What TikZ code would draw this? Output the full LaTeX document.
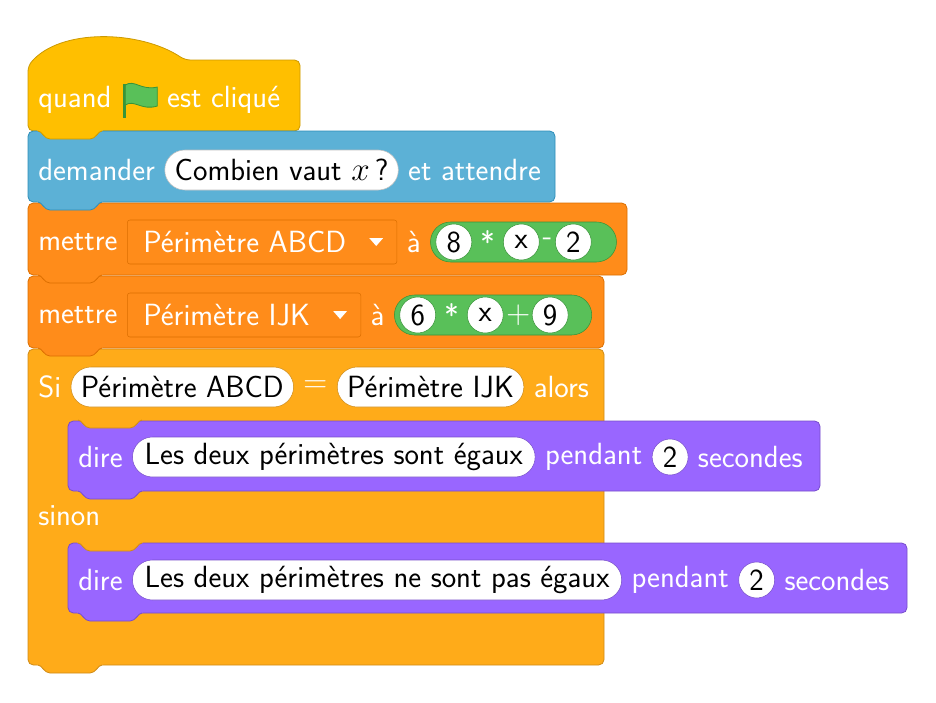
\documentclass[tikz,border=0pt]{standalone}
\usepackage{tikz}
\usetikzlibrary{positioning,calc,shapes.misc}
\definecolor{evyel}{HTML}{FFBF00}\definecolor{evyelB}{HTML}{CC9900}
\definecolor{snblue}{HTML}{5CB1D6}\definecolor{snblueB}{HTML}{2E8EB8}
\definecolor{varor}{HTML}{FF8C1A}\definecolor{varorB}{HTML}{DB6E00}
\definecolor{ctlor}{HTML}{FFAB19}\definecolor{ctlorB}{HTML}{CF8B17}
\definecolor{lookpu}{HTML}{9966FF}\definecolor{lookpuB}{HTML}{774DCB}
\definecolor{opgr}{HTML}{59C059}\definecolor{opgrB}{HTML}{389438}
\newcommand\scrfont{\sffamily\fontsize{23}{27}\selectfont}
% tab under a block: x, y, fill, border
\newcommand\scrtab[4]{
  \fill[#3] (#1+9,#2-1) -- (#1+10,#2) .. controls (#1+14,#2) and (#1+16,#2+8) .. (#1+22,#2+8) -- (#1+62,#2+8) .. controls (#1+68,#2+8) and (#1+70,#2) .. (#1+74,#2) -- (#1+75,#2-1) -- cycle;
  \draw[#4, line width=0.6pt] (#1+10,#2) .. controls (#1+14,#2) and (#1+16,#2+8) .. (#1+22,#2+8) -- (#1+62,#2+8) .. controls (#1+68,#2+8) and (#1+70,#2) .. (#1+74,#2);
}
\begin{document}
\begin{tikzpicture}[x=0.75pt, y=-0.75pt, node distance=7pt,
  blk/.style={rounded corners=4pt, line width=0.6pt},
  lbl/.style={text=white, inner sep=0pt, font=\scrfont},
  pill/.style={rounded rectangle, fill=white, draw=black!25, inner xsep=5pt, inner ysep=0pt, minimum height=30pt, font=\scrfont},
  drop/.style={rounded corners=2pt, draw=varorB, fill=varor, text=white, inner xsep=12pt, minimum height=33pt, font=\scrfont},
  num/.style={circle, fill=white, draw=opgrB, inner sep=0pt, minimum size=27pt, font=\scrfont},
  expr/.style={rounded rectangle, fill=opgr, draw=opgrB, minimum height=30pt, inner sep=0pt}]
\useasboundingbox (0,0) rectangle (936,703);

% blocks
\filldraw[blk, fill=evyel, draw=evyelB] (28,131) -- (28,66) .. controls (60,28) and (140,30) .. (185,60) -- (300,60) -- (300,131) -- cycle;
\filldraw[blk, fill=snblue, draw=snblueB] (28,131) rectangle (555,202);
\filldraw[blk, fill=varor, draw=varorB] (28,203) rectangle (627,275);
\filldraw[blk, fill=varor, draw=varorB] (28,276) rectangle (604,348);
\filldraw[blk, fill=ctlor, draw=ctlorB] (28,349) rectangle (604,665);
\filldraw[blk, fill=lookpu, draw=lookpuB] (68,421) rectangle (820,491);
\filldraw[blk, fill=lookpu, draw=lookpuB] (68,543) rectangle (907,613);
\scrtab{28}{131}{evyel}{evyelB}
\scrtab{28}{202}{snblue}{snblueB}
\scrtab{28}{275}{varor}{varorB}
\scrtab{28}{348}{varor}{varorB}
\scrtab{68}{420}{ctlor}{ctlorB}
\scrtab{68}{491}{lookpu}{lookpuB}
\scrtab{68}{543}{ctlor}{ctlorB}
\scrtab{68}{613}{lookpu}{lookpuB}
\scrtab{28}{665}{ctlor}{ctlorB}

% quand ... est clique
\node[lbl, anchor=west] (quand) at (38,100) {quand};
\node[minimum width=27pt, minimum height=26pt, inner sep=0pt] (flag) [right=of quand] {};
\node[lbl] (clic) [right=of flag] {est cliqué};
\begin{scope}[shift={(flag.center)}]
  \draw[opgrB, line width=2.4pt] (-15,-16) -- (-15,18);
  \filldraw[fill=opgr, draw=opgrB, line width=0.6pt] (-14,-15) .. controls (-5,-21) and (2,-9) .. (18,-13) -- (18,6) .. controls (2,11) and (-5,-1) .. (-14,5) -- cycle;
\end{scope}

% demander
\node[lbl, anchor=west] (dem) at (38,170) {demander};
\node[pill] (ques) [right=of dem] {Combien vaut $x$\,?};
\node[lbl] (att) [right=of ques] {et attendre};

% mettre ABCD
\node[lbl, anchor=west] (met1) at (38,242) {mettre};
\node[drop] (var1) [right=of met1] {Périmètre ABCD\hspace*{26pt}};
\node[lbl] (a1) [right=of var1] {à};
\node[expr, minimum width=139.5pt] (exp1) [right=of a1] {};
\node[num, anchor=west] (e1a) at ([xshift=4pt]exp1.west) {8};
\node[lbl, node distance=6pt] (e1b) [right=of e1a] {*};
\node[num, node distance=6pt] (e1c) [right=of e1b] {x};
\node[lbl, node distance=2pt] (e1d) [right=of e1c] {-};
\node[num, node distance=2pt] (e1e) [right=of e1d] {2};

% mettre IJK
\node[lbl, anchor=west] (met2) at (38,315) {mettre};
\node[drop] (var2) [right=of met2] {Périmètre IJK\hspace*{26pt}};
\node[lbl] (a2) [right=of var2] {à};
\node[expr, minimum width=148pt] (exp2) [right=of a2] {};
\node[num, anchor=west] (e2a) at ([xshift=4pt]exp2.west) {6};
\node[lbl, node distance=6pt] (e2b) [right=of e2a] {*};
\node[num, node distance=6pt] (e2c) [right=of e2b] {x};
\node[lbl, node distance=2pt] (e2d) [right=of e2c] {$+$};
\node[num, node distance=1pt] (e2e) [right=of e2d] {9};
\foreach \v in {var1,var2}
  \fill[white] ($(\v.east)+(-28,-4)$) -- ($(\v.east)+(-14,-4)$) -- ($(\v.east)+(-21,4)$) -- cycle;

% si ... alors
\node[lbl, anchor=west] (si) at (38,387) {Si};
\node[pill, draw=ctlorB] (cond1) [right=of si] {Périmètre ABCD};
\node[lbl] (eq) [right=of cond1] {$=$};
\node[pill, draw=ctlorB] (cond2) [right=of eq] {Périmètre IJK};
\node[lbl] (alors) [right=of cond2] {alors};

% dire 1
\node[lbl, anchor=west] (dire1) at (78,457) {dire};
\node[pill, draw=lookpuB] (msg1) [right=of dire1] {Les deux périmètres sont égaux};
\node[lbl] (pend1) [right=of msg1] {pendant};
\node[num, draw=lookpuB] (sec1) [right=of pend1] {2};
\node[lbl] (secd1) [right=of sec1] {secondes};

\node[lbl, anchor=west] (sinon) at (38,516) {sinon};

% dire 2
\node[lbl, anchor=west] (dire2) at (78,580) {dire};
\node[pill, draw=lookpuB] (msg2) [right=of dire2] {Les deux périmètres ne sont pas égaux};
\node[lbl] (pend2) [right=of msg2] {pendant};
\node[num, draw=lookpuB] (sec2) [right=of pend2] {2};
\node[lbl] (secd2) [right=of sec2] {secondes};
\end{tikzpicture}
\end{document}
